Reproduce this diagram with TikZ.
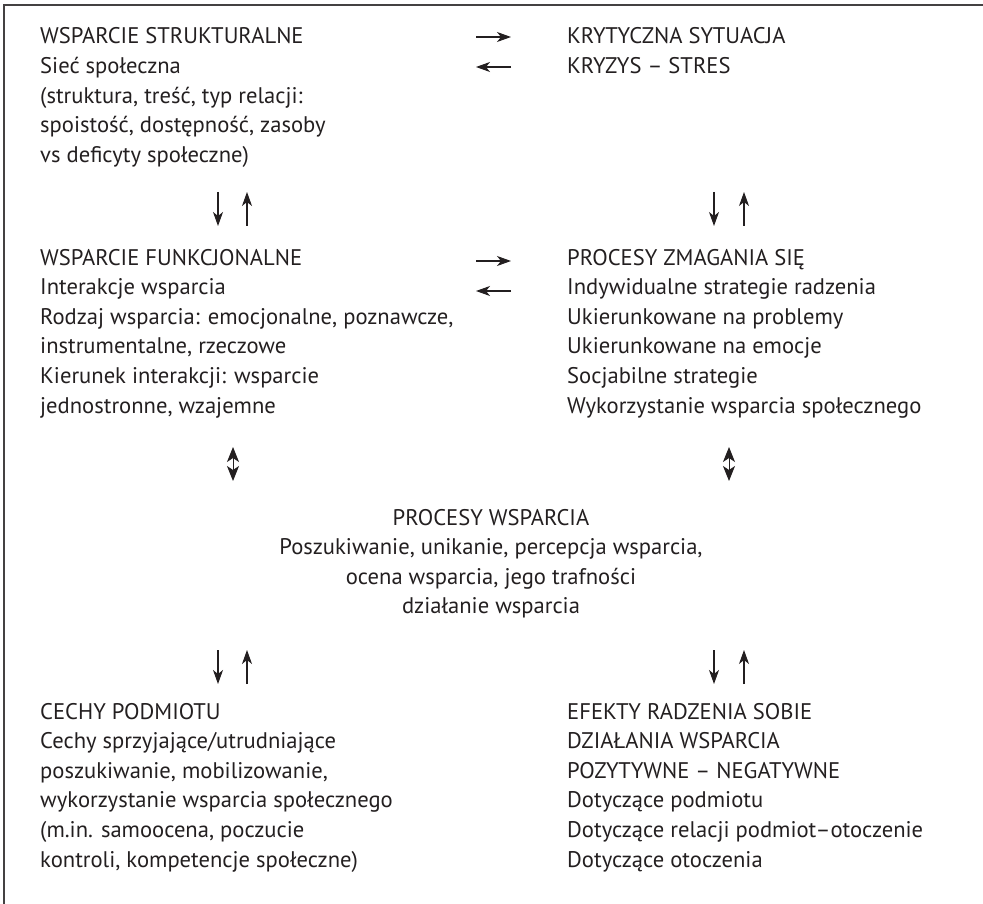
\documentclass[tikz,border=0pt]{standalone}
\usepackage{fontspec}
\setmainfont{PT Sans}
\usetikzlibrary{arrows.meta}
\definecolor{tusz}{RGB}{35,31,32}
\tikzset{blok/.style={inner sep=0pt, align=left, anchor=base west, text=tusz, font=\fontsize{22.6}{29.6}\selectfont},
         srodek/.style={blok, align=center, anchor=base},
         arr/.style={-{Stealth[length=14pt,width=10pt,inset=4pt]}, line width=1.1pt, tusz},
         dwa/.style={{Stealth[length=15pt,width=12pt,inset=4pt]}-{Stealth[length=15pt,width=12pt,inset=4pt]}, line width=1pt, tusz}}

\begin{document}
\begin{tikzpicture}[x=1pt,y=-1pt]
   \useasboundingbox (0,0) rectangle (983,904);
   \draw [line width=1.4pt,tusz!85] (4,904) -- (4,5) -- (983,5);
   % gorne bloki (at = linia bazowa ostatniego wiersza)
   \node [blok] (strukt) at (40,162.4) {WSPARCIE STRUKTURALNE\\Sieć społeczna\\(struktura, treść, typ relacji:\\spoistość, dostępność, zasoby\\vs deficyty społeczne)};
   \node [blok] (kryzys) at (567,73.6) {KRYTYCZNA SYTUACJA\\KRYZYS – STRES};
   \draw [arr] (476,37) -- (511,37);
   \draw [arr] (511,67) -- (476,67);
   \draw [arr] (218,192) -- (218,226);
   \draw [arr] (247,226) -- (247,192);
   \draw [arr] (714,192) -- (714,226);
   \draw [arr] (744,226) -- (744,192);
   % srodkowe bloki
   \node [blok] (funk) at (40,413) {WSPARCIE FUNKCJONALNE\\Interakcje wsparcia\\Rodzaj wsparcia: emocjonalne, poznawcze,\\instrumentalne, rzeczowe\\Kierunek interakcji: wsparcie\\jednostronne, wzajemne};
   \node [blok] (zmag) at (567,413) {PROCESY ZMAGANIA SIĘ\\Indywidualne strategie radzenia\\Ukierunkowane na problemy\\Ukierunkowane na emocje\\Socjabilne strategie\\Wykorzystanie wsparcia społecznego};
   \draw [arr] (476,261) -- (511,261);
   \draw [arr] (511,291) -- (476,291);
   \draw [dwa] (233,447) -- (233,481);
   \draw [dwa] (729,447) -- (729,481);
   % procesy wsparcia
   \node [srodek] (proc) at (491,613.8) {PROCESY WSPARCIA\\Poszukiwanie, unikanie, percepcja wsparcia,\\ocena wsparcia, jego trafności\\działanie wsparcia};
   \draw [arr] (218,650) -- (218,684);
   \draw [arr] (247,684) -- (247,650);
   \draw [arr] (714,650) -- (714,684);
   \draw [arr] (744,684) -- (744,650);
   % dolne bloki
   \node [blok] (cechy) at (40,867) {CECHY PODMIOTU\\Cechy sprzyjające/utrudniające\\poszukiwanie, mobilizowanie,\\wykorzystanie wsparcia społecznego\\(m.in. samoocena, poczucie\\kontroli, kompetencje społeczne)};
   \node [blok] (efekty) at (567,867) {EFEKTY RADZENIA SOBIE\\DZIAŁANIA WSPARCIA\\POZYTYWNE – NEGATYWNE\\Dotyczące podmiotu\\Dotyczące relacji podmiot–otoczenie\\Dotyczące otoczenia};
\end{tikzpicture}
\end{document}
